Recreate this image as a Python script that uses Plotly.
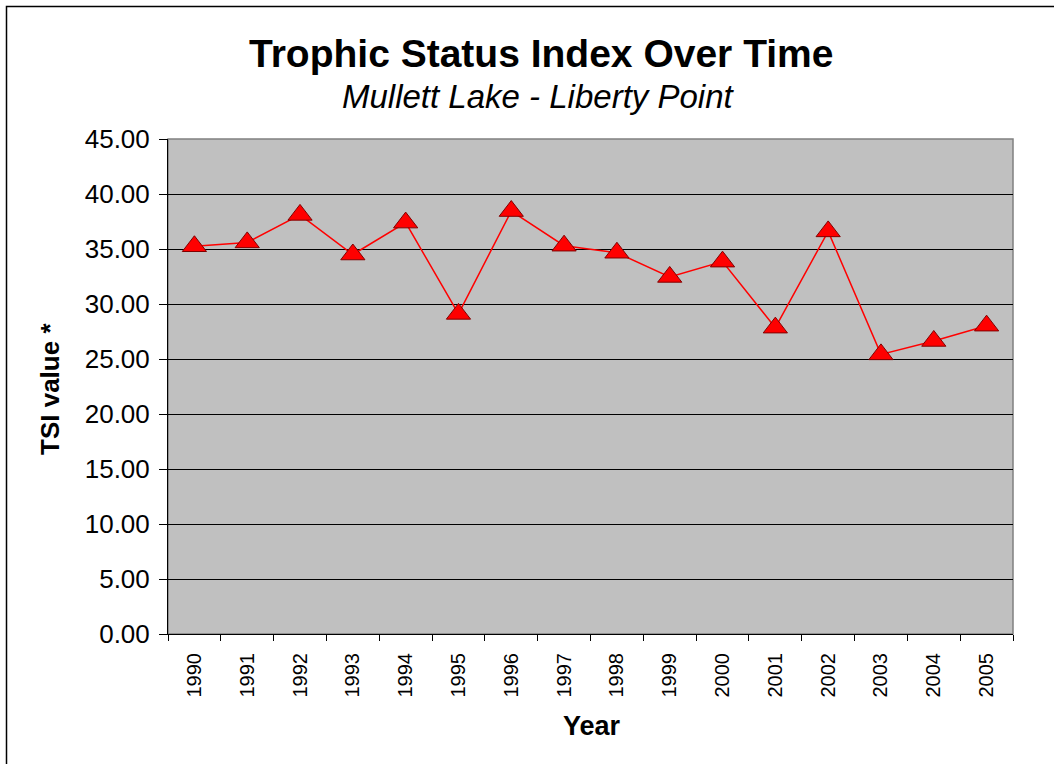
import plotly.graph_objects as go

years = ["1990", "1991", "1992", "1993", "1994", "1995", "1996", "1997",
         "1998", "1999", "2000", "2001", "2002", "2003", "2004", "2005"]
tsi = [35.25, 35.6, 38.1, 34.5, 37.4, 29.1, 38.45, 35.3,
       34.66, 32.46, 33.85, 27.85, 36.6, 25.42, 26.64, 28.03]
y_ticks = [0, 5, 10, 15, 20, 25, 30, 35, 40, 45]
y_tick_text = ["%.2f" % v for v in y_ticks]

title_text = "Trophic Status Index Over Time"
subtitle_text = "Mullett Lake - Liberty Point"
x_title = "Year"
y_title = "TSI value *"

FONT = "Liberation Sans, Arial, sans-serif"

fig = go.Figure()
fig.add_trace(go.Scatter(
    x=years, y=tsi, mode="lines+markers",
    line=dict(color="#FF0000", width=1.5),
    marker=dict(symbol="triangle-up", size=21, color="#FF0000",
                line=dict(color="#800000", width=1)),
    showlegend=False, hoverinfo="x+y",
))

W, H = 1054, 764
L, R, T, B = 168, 41, 139, 130
pw, ph = W - L - R, H - T - B


def px_x(px):
    return (px - L) / pw


def px_y(py):
    return (H - B - py) / ph


fig.update_layout(
    width=W, height=H,
    margin=dict(l=L, r=R, t=T, b=B, pad=0),
    paper_bgcolor="white",
    plot_bgcolor="#C0C0C0",
    font=dict(family=FONT, color="black"),
    xaxis=dict(
        type="category", tickson="boundaries",
        showline=True, linecolor="black", linewidth=1,
        ticks="outside", ticklen=6, tickcolor="black",
        showgrid=False, tickangle=-90,
        tickfont=dict(size=20, family=FONT),
        ticklabelstandoff=10,
        range=[-0.5, len(years) - 0.5],
    ),
    yaxis=dict(
        range=[0, 45], tickvals=y_ticks, ticktext=y_tick_text,
        showline=True, linecolor="black", linewidth=1,
        ticks="outside", ticklen=8, tickcolor="black",
        showgrid=True, gridcolor="#000000", gridwidth=1,
        zeroline=False,
        tickfont=dict(size=26, family=FONT),
        ticklabelstandoff=4,
    ),
    shapes=[
        dict(type="rect", xref="paper", yref="paper", x0=0, y0=0, x1=1, y1=1,
             line=dict(color="#808080", width=1.5), layer="below"),
        dict(type="rect", xref="paper", yref="paper",
             x0=px_x(6.5), y0=px_y(790), x1=px_x(1080), y1=px_y(6.5),
             line=dict(color="black", width=1.5), layer="above"),
    ],
    annotations=[
        dict(text="<b>%s</b>" % title_text, xref="paper", yref="paper",
             x=px_x(541), y=px_y(53), xanchor="center", yanchor="middle",
             showarrow=False, font=dict(size=39, family=FONT)),
        dict(text="<i>%s</i>" % subtitle_text, xref="paper", yref="paper",
             x=px_x(538), y=px_y(97), xanchor="center", yanchor="middle",
             showarrow=False, font=dict(size=33, family=FONT)),
        dict(text="<b>%s</b>" % x_title, xref="paper", yref="paper",
             x=px_x(592), y=px_y(726), xanchor="center", yanchor="middle",
             showarrow=False, font=dict(size=27, family=FONT)),
        dict(text="<b>%s</b>" % y_title, xref="paper", yref="paper",
             x=px_x(50), y=px_y(389), xanchor="center", yanchor="middle",
             textangle=-90, showarrow=False, font=dict(size=26, family=FONT)),
    ],
)

fig.write_html(
    "out.html",
    config={"displayModeBar": False},
    post_script="document.body.style.margin='0';document.body.style.overflow='hidden';",
)
